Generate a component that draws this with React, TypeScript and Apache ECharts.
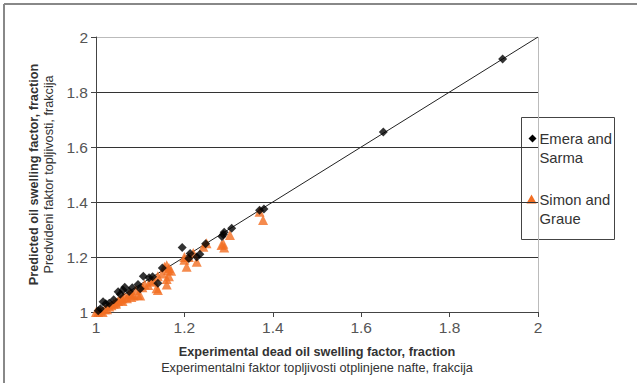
import React, { useEffect, useRef } from "react";
import * as echarts from "echarts";

const legendNames = ["Emera and\nSarma", "Simon and\nGraue"];

const emeraX = [1.92, 1.65, 1.38, 1.37, 1.307, 1.29, 1.288, 1.285, 1.248, 1.195, 1.213, 1.21, 1.228, 1.235, 1.15, 1.14, 1.12, 1.107, 1.1, 1.082, 1.065, 1.061, 1.05, 1.055, 1.03, 1.016, 1.022, 1.01, 1.04, 1.128, 1.095, 1.075, 1.005];
const emeraY = [1.92, 1.655, 1.375, 1.37, 1.305, 1.29, 1.282, 1.275, 1.248, 1.235, 1.213, 1.195, 1.2, 1.21, 1.16, 1.105, 1.125, 1.13, 1.085, 1.088, 1.09, 1.08, 1.074, 1.065, 1.032, 1.037, 1.03, 1.012, 1.045, 1.128, 1.1, 1.075, 1.005];

const simonX = [1.37, 1.378, 1.303, 1.284, 1.29, 1.288, 1.25, 1.243, 1.228, 1.205, 1.2, 1.2, 1.21, 1.22, 1.16, 1.16, 1.165, 1.163, 1.17, 1.165, 1.155, 1.16, 1.14, 1.137, 1.118, 1.1, 1.095, 1.085, 1.08, 1.07, 1.06, 1.05, 1.04, 1.03, 1.02, 1.01, 1.005, 1.0, 1.015, 1.025, 1.035, 1.045, 1.055, 1.065, 1.075, 1.09, 1.11, 1.13, 1.14, 1.15, 1.045, 1.06, 1.08, 1.125, 1.105];
const simonY = [1.365, 1.335, 1.28, 1.244, 1.235, 1.248, 1.25, 1.237, 1.183, 1.165, 1.19, 1.2, 1.2, 1.215, 1.1, 1.12, 1.13, 1.153, 1.15, 1.16, 1.165, 1.17, 1.08, 1.086, 1.098, 1.06, 1.062, 1.06, 1.065, 1.05, 1.05, 1.04, 1.03, 1.02, 1.01, 1.005, 1.0, 1.0, 1.0, 1.01, 1.025, 1.035, 1.045, 1.055, 1.065, 1.08, 1.1, 1.115, 1.13, 1.14, 1.03, 1.04, 1.055, 1.11, 1.09];

const diagX = [1, 2];
const diagY = [1, 2];

export default function App() {
  const ref = useRef<HTMLDivElement>(null);
  useEffect(() => {
    if (!ref.current) return;
    const chart = echarts.init(ref.current, null, { renderer: "svg" });
    const tickFont = "'Liberation Sans Narrow', 'Liberation Sans', Arial, sans-serif";
    const font = "'Liberation Sans', Arial, sans-serif";
    const clear = "rgba(0,0,0,0)";
    chart.setOption({
      animation: false,
      backgroundColor: "#fff",
      grid: { left: 96, right: 99, top: 37, bottom: 71 },
      xAxis: {
        type: "value",
        min: 1,
        max: 2,
        interval: 0.2,
        axisLine: { show: true, lineStyle: { color: "#444", width: 1 } },
        axisTick: { show: true, inside: false, length: 5, lineStyle: { color: "#444" } },
        axisLabel: {
          margin: 7,
          color: "#555",
          fontSize: 15.5,
          fontFamily: tickFont,
          formatter: (v: number) => String(+v.toFixed(1)),
        },
        splitLine: {
          show: true,
          lineStyle: { color: [clear, clear, clear, clear, clear, "#bbb"], width: 1 },
        },
        name: "{b|Experimental dead oil swelling factor, fraction}\n{r|Experimentalni faktor topljivosti otplinjene nafte, frakcija}",
        nameLocation: "middle",
        nameGap: 32,
        nameTextStyle: {
          rich: {
            b: { fontFamily: font, fontWeight: "bold", fontSize: 12.7, color: "#333", lineHeight: 16, align: "center" },
            r: { fontFamily: font, fontSize: 12.7, color: "#333", lineHeight: 16, align: "center" },
          },
        },
      },
      yAxis: {
        type: "value",
        min: 1,
        max: 2,
        interval: 0.2,
        axisLine: { show: true, lineStyle: { color: "#444", width: 1 } },
        axisTick: { show: true, inside: false, length: 5, lineStyle: { color: "#444" } },
        axisLabel: {
          margin: 8,
          color: "#555",
          fontSize: 15.5,
          fontFamily: tickFont,
          formatter: (v: number) => String(+v.toFixed(1)),
        },
        splitLine: {
          show: true,
          lineStyle: { color: [clear, "#333", "#333", "#333", "#333", "#bbb"], width: 1 },
        },
        name: "{b|Predicted oil swelling factor, fraction}\n{r|Predvideni faktor topljivosti, frakcija}",
        nameLocation: "middle",
        nameRotate: 90,
        nameGap: 32,
        nameTextStyle: {
          rich: {
            b: { fontFamily: font, fontWeight: "bold", fontSize: 12.7, color: "#333", lineHeight: 15, align: "center" },
            r: { fontFamily: font, fontSize: 12.7, color: "#333", lineHeight: 15, align: "center" },
          },
        },
      },
      series: [
        {
          type: "line",
          name: "diag",
          data: diagX.map((x, i) => [x, diagY[i]]),
          showSymbol: false,
          symbol: "none",
          lineStyle: { color: "#222", width: 1 },
          silent: true,
          z: 1,
        },
        {
          type: "scatter",
          name: legendNames[1],
          data: simonX.map((x, i) => [x, simonY[i]]),
          symbol: "triangle",
          symbolSize: 10,
          itemStyle: { color: "#F26E22" },
          z: 2,
        },
        {
          type: "scatter",
          name: legendNames[0],
          data: emeraX.map((x, i) => [x, emeraY[i]]),
          symbol: "diamond",
          symbolSize: 9,
          itemStyle: { color: "#000" },
          z: 3,
        },
      ],
      graphic: [
        { type: "line", shape: { x1: 4, y1: 4, x2: 4, y2: 400 }, style: { stroke: "#888", lineWidth: 2 } },
        { type: "line", shape: { x1: 4, y1: 4, x2: 650, y2: 4 }, style: { stroke: "#888", lineWidth: 2 } },
        {
          type: "group",
          left: 521,
          top: 117,
          z: 100,
          children: [
            { type: "rect", shape: { x: 0, y: 0, width: 93, height: 122 }, style: { fill: "#fff", stroke: "#444", lineWidth: 1 } },
            { type: "polygon", shape: { points: [[11, 17], [15, 21], [11, 25], [7, 21]] }, style: { fill: "#000" } },
            {
              type: "text", x: 18, y: 11.5,
              style: { text: legendNames[0], fontFamily: font, fontSize: 14.8, lineHeight: 19, fill: "#333" },
            },
            { type: "polygon", shape: { points: [[10, 77], [15, 86], [5, 86]] }, style: { fill: "#F26E22" } },
            {
              type: "text", x: 18, y: 72.5,
              style: { text: legendNames[1], fontFamily: font, fontSize: 14.8, lineHeight: 19, fill: "#333" },
            },
          ],
        },
      ],
    });
    return () => chart.dispose();
  }, []);
  return (
    <div
      ref={ref}
      style={{ position: "fixed", left: 0, top: 0, width: 637, height: 383 }}
    />
  );
}
